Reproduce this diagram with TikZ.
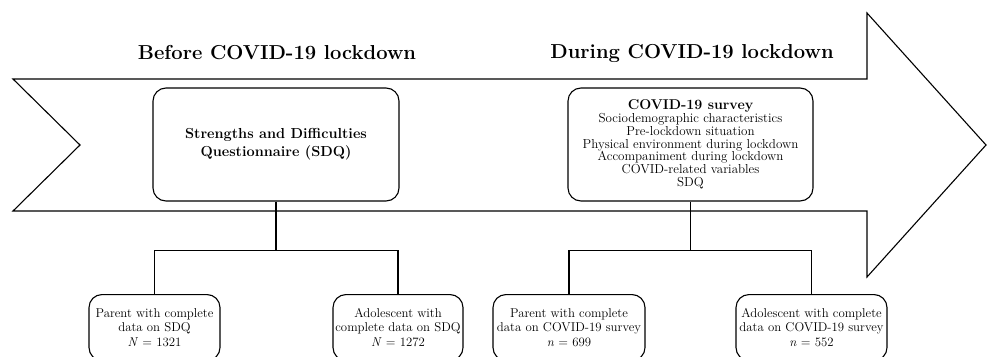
\documentclass[tikz,border=0pt]{standalone}
\usepackage{fontspec}
\setmainfont{Latin Modern Roman}
\begin{document}
\begin{tikzpicture}[x=1pt,y=-1pt,
  line width=1.1pt,
  rbox/.style={draw, rounded corners=13pt, align=center, inner sep=2pt},
  ttl/.style={font=\fontsize{20.2}{24}\selectfont\bfseries},
  small/.style={font=\fontsize{12.8}{14.3}\selectfont}]
\useasboundingbox (0,0) rectangle (987,356);
% big arrow
\draw[line join=miter] (13,79) -- (867,79) -- (867,13) -- (986,145) -- (867,277)
  -- (867,211) -- (13,211) -- (80,145) -- cycle;
% titles
\node[ttl] (t1) at (277,53) {Before COVID-19 lockdown};
\node[ttl] (t2) at (692,53) {During COVID-19 lockdown};
% main boxes
\node[rbox, minimum width=246pt, minimum height=113pt,
  font=\fontsize{14.5}{18}\selectfont\bfseries] (sdq) at (276,144.5)
  {Strengths and Difficulties\\Questionnaire (SDQ)};
\node[rbox, minimum width=245pt, minimum height=113pt,
  font=\fontsize{13}{12.8}\selectfont] (cov) at (690.5,144.5)
  {{\fontsize{14.2}{12.8}\selectfont\bfseries COVID-19 survey}\\
   Sociodemographic characteristics\\
   Pre-lockdown situation\\
   Physical environment during lockdown\\
   Accompaniment during lockdown\\
   COVID-related variables\\
   SDQ};
% bottom boxes
\node[rbox, small, minimum width=131pt, minimum height=66pt, anchor=north] (p1) at (154.5,294)
  {Parent with complete\\data on SDQ\\\textit{N} = 1321};
\node[rbox, small, minimum width=130pt, minimum height=66pt, anchor=north] (a1) at (398,294)
  {Adolescent with\\complete data on SDQ\\\textit{N} = 1272};
\node[rbox, small, minimum width=152pt, minimum height=66pt, anchor=north] (p2) at (569,294)
  {Parent with complete\\data on COVID-19 survey\\\textit{n} = 699};
\node[rbox, small, minimum width=151pt, minimum height=66pt, anchor=north] (a2) at (811.5,294)
  {Adolescent with complete\\data on COVID-19 survey\\\textit{n} = 552};
% connectors
\coordinate (j1) at ([yshift=-49pt]sdq.south);
\coordinate (j2) at ([yshift=-49pt]cov.south);
\draw (sdq.south) -- (j1);
\draw (j1) -| (p1.north);
\draw (j1) -| (a1.north);
\draw (cov.south) -- (j2);
\draw (j2) -| (p2.north);
\draw (j2) -| (a2.north);
\end{tikzpicture}
\end{document}
